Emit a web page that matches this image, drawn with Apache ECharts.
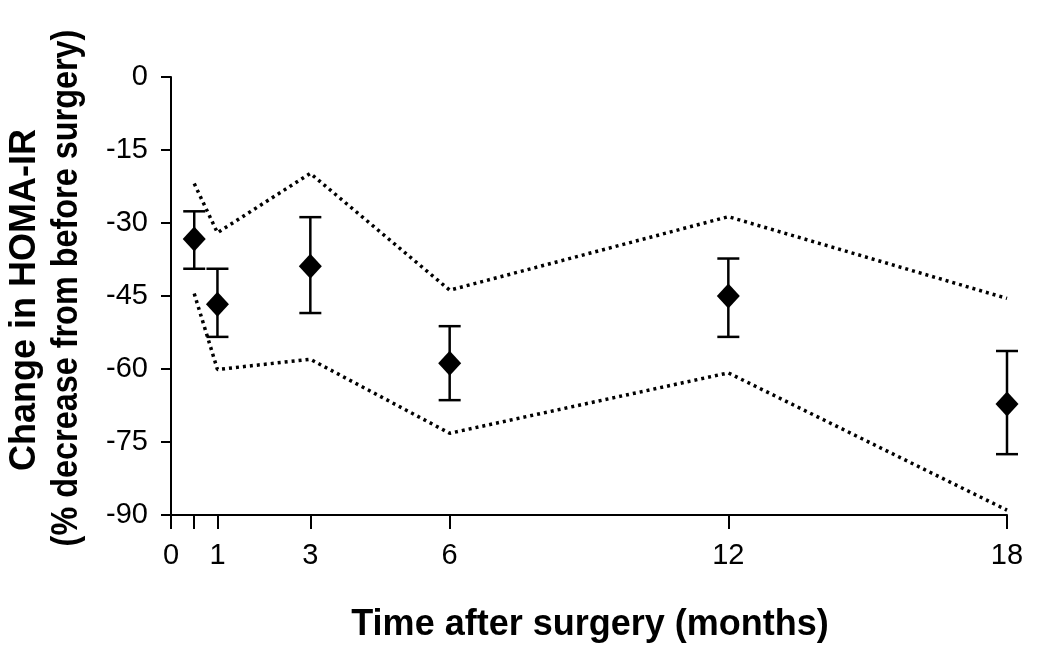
<!DOCTYPE html>
<html><head><meta charset="utf-8">
<script src="https://cdn.jsdelivr.net/npm/echarts@6/dist/echarts.min.js"></script>
<style>html,body{margin:0;padding:0;background:#fff}#c{width:1050px;height:656px}</style>
</head><body><div id="c"></div>
<script>
const months = [0.5, 1, 3, 6, 12, 18];
const meanChange = [-33.3, -46.7, -38.9, -58.8, -45.0, -67.2];
const errLow = [-39.4, -53.4, -48.5, -66.4, -53.4, -77.5];
const errHigh = [-27.6, -39.4, -28.8, -51.2, -37.3, -56.3];
const upperBand = [-21.9, -32.0, -19.8, -43.8, -28.7, -45.5];
const lowerBand = [-44.5, -60.1, -58.0, -73.2, -60.8, -89.0];
const xTicks = [0, 0.5, 1, 3, 6, 12, 18];
const xLabels = [0, 1, 3, 6, 12, 18];

const font = 'Liberation Sans, Arial, sans-serif';
const chart = echarts.init(document.getElementById('c'));
chart.setOption({
  animation: false,
  backgroundColor: '#fff',
  grid: {left: 171, right: 43, top: 77, bottom: 141},
  xAxis: {
    type: 'value', min: 0, max: 18,
    splitLine: {show: false},
    axisLine: {onZero: false, lineStyle: {color: '#000', width: 2}},
    axisTick: {show: true, length: 14, lineStyle: {color: '#000', width: 2}, customValues: xTicks},
    axisLabel: {color: '#000', fontSize: 29, fontFamily: font, margin: 26, customValues: xLabels}
  },
  yAxis: {
    type: 'value', min: -90, max: 0, interval: 15,
    splitLine: {show: false},
    axisLine: {show: true, onZero: false, lineStyle: {color: '#000', width: 2}},
    axisTick: {show: true, length: 10, lineStyle: {color: '#000', width: 2}},
    axisLabel: {color: '#000', fontSize: 29, fontFamily: font, margin: 23}
  },
  graphic: [
    {type: 'text', x: 25, y: 300, rotation: Math.PI / 2,
     style: {text: 'Change in HOMA-IR', font: 'bold 36px ' + font, fill: '#000', textAlign: 'center', textVerticalAlign: 'middle'}},
    {type: 'text', x: 67, y: 288, rotation: Math.PI / 2, scaleX: 0.9,
     style: {text: '(% decrease from before surgery)', font: 'bold 36px ' + font, fill: '#000', textAlign: 'center', textVerticalAlign: 'middle'}},
    {type: 'text', x: 590, y: 625,
     style: {text: 'Time after surgery (months)', font: 'bold 36px ' + font, fill: '#000', textAlign: 'center', textVerticalAlign: 'middle'}}
  ],
  series: [
    {type: 'line', data: months.map((m, i) => [m, upperBand[i]]), symbol: 'none',
     lineStyle: {color: '#000', width: 3.5, type: [3, 4]}, z: 2},
    {type: 'line', data: months.map((m, i) => [m, lowerBand[i]]), symbol: 'none',
     lineStyle: {color: '#000', width: 3.5, type: [3, 4]}, z: 2},
    {type: 'custom', z: 3,
     data: months.map((m, i) => [m, errLow[i], errHigh[i]]),
     renderItem: function (params, api) {
       const lo = api.coord([api.value(0), api.value(1)]);
       const hi = api.coord([api.value(0), api.value(2)]);
       const w = 11;
       const st = {stroke: '#000', lineWidth: 2.5};
       return {type: 'group', children: [
         {type: 'line', shape: {x1: lo[0], y1: lo[1], x2: hi[0], y2: hi[1]}, style: st},
         {type: 'line', shape: {x1: lo[0] - w, y1: lo[1], x2: lo[0] + w, y2: lo[1]}, style: st},
         {type: 'line', shape: {x1: hi[0] - w, y1: hi[1], x2: hi[0] + w, y2: hi[1]}, style: st}
       ]};
     }},
    {type: 'scatter', data: months.map((m, i) => [m, meanChange[i]]), symbol: 'diamond',
     symbolSize: [23, 25], itemStyle: {color: '#000', opacity: 1}, z: 4}
  ]
});
</script></body></html>
